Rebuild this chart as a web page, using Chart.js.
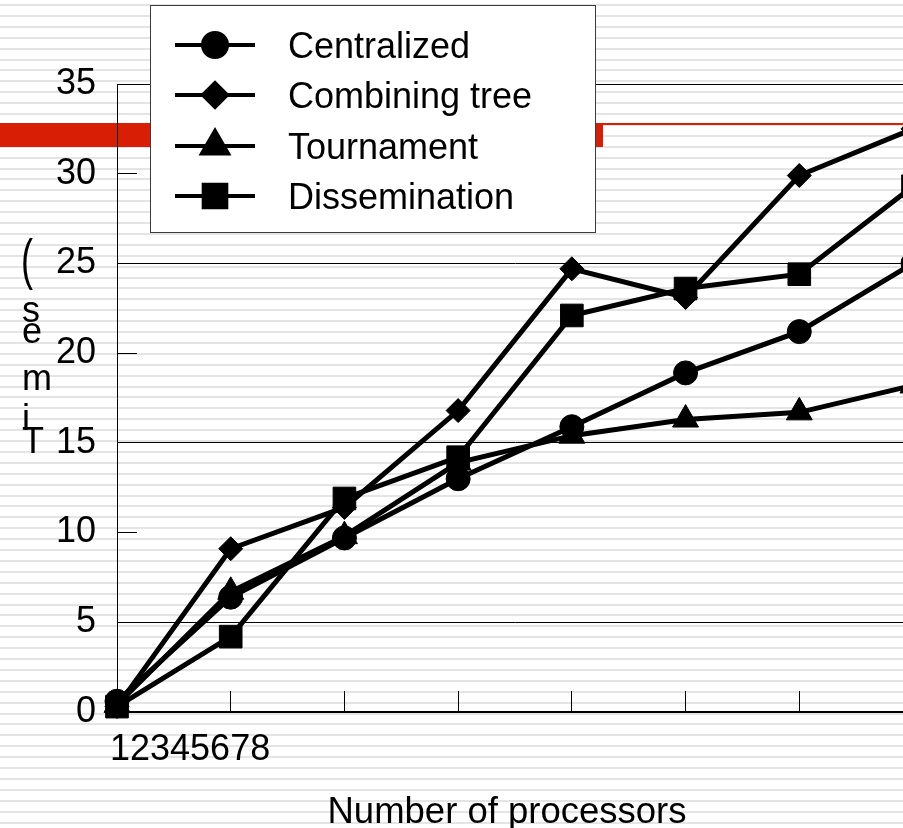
<!DOCTYPE html>
<html>
<head>
<meta charset="utf-8">
<title>Barrier timing</title>
<script src="https://cdn.jsdelivr.net/npm/chart.js@4.4.1/dist/chart.umd.min.js"></script>
<style>
  html, body { margin: 0; padding: 0; width: 903px; height: 828px; overflow: hidden; background: #fff; }
  body {
    background-image: repeating-linear-gradient(to bottom,
      transparent 0px, transparent 4px, #e4e4e4 4px, #e4e4e4 6px, transparent 6px, transparent 10.9px);
  }
  #wrap { position: absolute; left: 0; top: 0; width: 930px; height: 828px; }
</style>
</head>
<body>
<div id="wrap"><canvas id="chart" width="930" height="828"></canvas></div>
<script>
// Barrier time by processor count, one series per algorithm
const processors    = ['1', '2', '3', '4', '5', '6', '7', '8'];
const centralized   = [0.6, 6.4, 9.7, 13.0, 15.9, 18.9, 21.2, 25.0];
const combiningTree = [0.3, 9.1, 11.4, 16.8, 24.7, 23.1, 29.9, 32.5];
const tournament    = [0.4, 6.7, 9.8, 13.9, 15.4, 16.3, 16.7, 18.2];
const dissemination = [0.3, 4.2, 11.9, 14.2, 22.1, 23.6, 24.4, 29.3];
const seriesNames   = ['Centralized', 'Combining tree', 'Tournament', 'Dissemination'];
const yMin = 0, yMax = 35, yStep = 5;
const xTitle = 'Number of processors';
const yTitle = 'Time (s)';

const FONT = "'Liberation Sans', Arial, sans-serif";

function series(label, data, style, radius) {
  return {
    label, data,
    borderColor: '#000', backgroundColor: '#000',
    borderWidth: 5, tension: 0,
    pointStyle: style, pointRadius: radius, pointHoverRadius: radius,
    pointBackgroundColor: '#000', pointBorderColor: '#000', pointBorderWidth: 1,
    clip: false
  };
}

// Red banner across the top of the slide, under the axes and key
const banner = {
  id: 'banner',
  beforeDraw(chart) {
    const ctx = chart.ctx;
    ctx.save();
    ctx.fillStyle = '#d81e05';
    ctx.fillRect(0, 123, 603, 24);
    ctx.fillRect(603, 123, chart.width - 603, 2);
    ctx.restore();
  }
};

// Axis titles and the packed category label row
const titles = {
  id: 'titles',
  afterDraw(chart) {
    const ctx = chart.ctx;
    const xs = chart.scales.x;
    ctx.save();
    ctx.fillStyle = '#000';
    ctx.font = '36px ' + FONT;
    ctx.textBaseline = 'alphabetic';
    ctx.textAlign = 'left';
    ctx.fillText(processors.join(''), xs.getPixelForValue(0) - 7, 760);
    ctx.font = '36.5px ' + FONT;
    ctx.textAlign = 'center';
    ctx.fillText(xTitle, 507, 823);

    // stacked y title, read bottom to top
    ctx.font = '36px ' + FONT;
    const chars = yTitle.replace(' ', '').split('');
    const baselines = [453, 430, 390, 343, 343, 322, 278];
    ctx.textAlign = 'left';
    chars.forEach((c, i) => {
      if (c === '(') return;
      if (c === ')') {
        ctx.save();
        ctx.translate(21, baselines[i]);
        ctx.scale(1, 1.55);
        ctx.fillText('(', 0, 0);
        ctx.restore();
        return;
      }
      ctx.fillText(c, 22, baselines[i]);
    });
    ctx.restore();
  }
};

// Boxed key in the upper left
const key = {
  id: 'key',
  afterDraw(chart) {
    const ctx = chart.ctx;
    ctx.save();
    ctx.fillStyle = '#fff';
    ctx.fillRect(150, 5, 445, 227);
    ctx.strokeStyle = '#3c3c3c';
    ctx.lineWidth = 1;
    ctx.strokeRect(150.5, 5.5, 445, 227);
    const rows = [45, 95, 146, 196];
    chart.data.datasets.forEach((ds, i) => {
      const y = rows[i];
      ctx.strokeStyle = '#000';
      ctx.lineWidth = 4;
      ctx.beginPath();
      ctx.moveTo(175, y);
      ctx.lineTo(255, y);
      ctx.stroke();
      ctx.fillStyle = '#000';
      ctx.strokeStyle = '#000';
      Chart.helpers.drawPoint(ctx, {
        pointStyle: ds.pointStyle, radius: ds.pointRadius, rotation: 0, borderWidth: 1
      }, 215, y);
      ctx.fillStyle = '#000';
      ctx.font = '36px ' + FONT;
      ctx.textAlign = 'left';
      ctx.textBaseline = 'alphabetic';
      ctx.fillText(ds.label, 288, y + 13);
    });
    ctx.restore();
  }
};

new Chart(document.getElementById('chart'), {
  type: 'line',
  data: {
    labels: processors,
    datasets: [
      series(seriesNames[0], centralized, 'circle', 12),
      series(seriesNames[1], combiningTree, 'rectRot', 12),
      series(seriesNames[2], tournament, 'triangle', 15),
      series(seriesNames[3], dissemination, 'rect', 16)
    ]
  },
  options: {
    responsive: false,
    animation: false,
    devicePixelRatio: 1,
    layout: { padding: { top: 84, right: 13, left: 0, bottom: 0 } },
    plugins: { legend: { display: false }, tooltip: { enabled: false } },
    scales: {
      x: {
        type: 'category',
        offset: false,
        afterFit(scale) { scale.height = 116; },
        ticks: { display: false },
        grid: {
          drawOnChartArea: false, drawTicks: true, tickLength: -21,
          color: 'transparent', tickColor: '#000', tickWidth: 1
        },
        border: { display: true, color: '#000', width: 2 }
      },
      y: {
        min: yMin, max: yMax,
        afterFit(scale) { scale.width = 117; },
        ticks: {
          stepSize: yStep, padding: 41, color: '#000',
          font: { family: FONT, size: 36 }
        },
        grid: {
          drawTicks: true, tickLength: -20,
          color: (c) => (c.tick && c.tick.value % 10 === 5) ? '#000' : 'transparent',
          lineWidth: 1, tickColor: '#000', tickWidth: 1
        },
        border: { display: true, color: '#000', width: 1 }
      }
    }
  },
  plugins: [banner, titles, key]
});
</script>
</body>
</html>
